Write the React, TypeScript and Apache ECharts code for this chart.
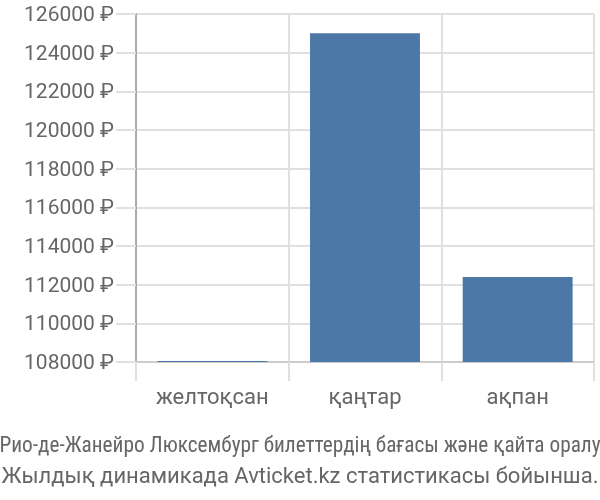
import React, { useEffect, useRef } from "react";
import * as echarts from "echarts";

const categories = ["желтоқсан", "қаңтар", "ақпан"];
const prices = [108050, 125000, 112400];
const yMin = 108000;
const yMax = 126000;
const yStep = 2000;
const titleLine1 = "Рио-де-Жанейро Люксембург билеттердің бағасы және қайта оралу";
const titleLine2 = "Жылдық динамикада Avticket.kz статистикасы бойынша.";

export default function App() {
  const ref = useRef<HTMLDivElement>(null);
  useEffect(() => {
    if (!ref.current) return;
    const chart = echarts.init(ref.current, null, { renderer: "svg" });
    chart.setOption({
      animation: false,
      grid: { left: 136, right: 6, top: 14, bottom: 138, containLabel: false },
      title: [
        {
          text: titleLine1,
          left: "center",
          top: 429,
          textStyle: { fontFamily: "Liberation Sans Narrow, Roboto Condensed, Roboto", fontSize: 21.3, fontWeight: "normal", color: "#666" },
        },
        {
          text: titleLine2,
          left: "center",
          top: 459,
          textStyle: { fontFamily: "Roboto", fontSize: 22, fontWeight: "normal", color: "#666" },
        },
      ],
      xAxis: {
        type: "category",
        data: categories,
        boundaryGap: true,
        axisLine: { show: true, lineStyle: { color: "#ccc", width: 2 } },
        axisTick: { show: true, length: 19, lineStyle: { color: "#e0e0e0", width: 2 } },
        splitLine: { show: true, lineStyle: { color: "#e0e0e0", width: 2 } },
        axisLabel: { margin: 23, fontSize: 22, color: "#666", fontFamily: "Roboto" },
      },
      yAxis: {
        type: "value",
        min: yMin,
        max: yMax,
        interval: yStep,
        axisLine: { show: true, lineStyle: { color: "#aaa", width: 2 } },
        axisTick: { show: true, length: 20, lineStyle: { color: "#e0e0e0", width: 2 } },
        splitLine: { show: true, lineStyle: { color: "#e0e0e0", width: 2 } },
        axisLabel: {
          margin: 22,
          fontSize: 21,
          color: "#666",
          fontFamily: "Roboto",
          formatter: (v: number) => v + " ₽",
        },
      },
      graphic: [
        { type: "line", shape: { x1: 136, y1: 362, x2: 136, y2: 381 }, style: { stroke: "#aaa", lineWidth: 2 } },
      ],
      series: [
        {
          type: "bar",
          data: prices,
          barWidth: "72%",
          itemStyle: { color: "#4c78a8" },
        },
      ],
    });
    return () => chart.dispose();
  }, []);
  return <div ref={ref} style={{ position: "fixed", left: 0, top: 0, width: 600, height: 500 }} />;
}
